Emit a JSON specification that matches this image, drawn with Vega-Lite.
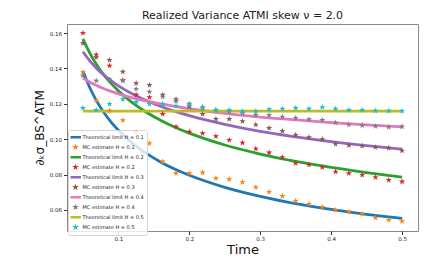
{
  "$schema": "https://vega.github.io/schema/vega-lite/v6.json",
  "width": 351,
  "height": 207,
  "autosize": {"type": "none"},
  "padding": {"left": 67, "top": 24, "right": 30, "bottom": 33},
  "background": "white",
  "title": {"text": "Realized Variance ATMI skew ν = 2.0", "fontSize": 11, "fontWeight": "normal", "font": "DejaVu Sans", "offset": 3, "anchor": "middle", "color": "#222"},
  "datasets": {
    "d": [
      {"s": "Theoretical limit H = 0.1", "T": 0.05, "v": 0.1385},
      {"s": "Theoretical limit H = 0.1", "T": 0.06, "v": 0.1288},
      {"s": "Theoretical limit H = 0.1", "T": 0.07, "v": 0.1211},
      {"s": "Theoretical limit H = 0.1", "T": 0.08, "v": 0.1148},
      {"s": "Theoretical limit H = 0.1", "T": 0.09, "v": 0.1095},
      {"s": "Theoretical limit H = 0.1", "T": 0.10, "v": 0.1050},
      {"s": "Theoretical limit H = 0.1", "T": 0.12, "v": 0.0976},
      {"s": "Theoretical limit H = 0.1", "T": 0.14, "v": 0.0918},
      {"s": "Theoretical limit H = 0.1", "T": 0.16, "v": 0.0870},
      {"s": "Theoretical limit H = 0.1", "T": 0.18, "v": 0.0830},
      {"s": "Theoretical limit H = 0.1", "T": 0.20, "v": 0.0796},
      {"s": "Theoretical limit H = 0.1", "T": 0.25, "v": 0.0728},
      {"s": "Theoretical limit H = 0.1", "T": 0.30, "v": 0.0677},
      {"s": "Theoretical limit H = 0.1", "T": 0.35, "v": 0.0636},
      {"s": "Theoretical limit H = 0.1", "T": 0.40, "v": 0.0603},
      {"s": "Theoretical limit H = 0.1", "T": 0.45, "v": 0.0575},
      {"s": "Theoretical limit H = 0.1", "T": 0.50, "v": 0.0552},
      {"s": "Theoretical limit H = 0.2", "T": 0.05, "v": 0.1567},
      {"s": "Theoretical limit H = 0.2", "T": 0.06, "v": 0.1484},
      {"s": "Theoretical limit H = 0.2", "T": 0.07, "v": 0.1417},
      {"s": "Theoretical limit H = 0.2", "T": 0.08, "v": 0.1361},
      {"s": "Theoretical limit H = 0.2", "T": 0.09, "v": 0.1314},
      {"s": "Theoretical limit H = 0.2", "T": 0.10, "v": 0.1273},
      {"s": "Theoretical limit H = 0.2", "T": 0.12, "v": 0.1205},
      {"s": "Theoretical limit H = 0.2", "T": 0.14, "v": 0.1151},
      {"s": "Theoretical limit H = 0.2", "T": 0.16, "v": 0.1106},
      {"s": "Theoretical limit H = 0.2", "T": 0.18, "v": 0.1067},
      {"s": "Theoretical limit H = 0.2", "T": 0.20, "v": 0.1034},
      {"s": "Theoretical limit H = 0.2", "T": 0.25, "v": 0.0967},
      {"s": "Theoretical limit H = 0.2", "T": 0.30, "v": 0.0916},
      {"s": "Theoretical limit H = 0.2", "T": 0.35, "v": 0.0874},
      {"s": "Theoretical limit H = 0.2", "T": 0.40, "v": 0.0840},
      {"s": "Theoretical limit H = 0.2", "T": 0.45, "v": 0.0811},
      {"s": "Theoretical limit H = 0.2", "T": 0.50, "v": 0.0785},
      {"s": "Theoretical limit H = 0.3", "T": 0.05, "v": 0.1494},
      {"s": "Theoretical limit H = 0.3", "T": 0.06, "v": 0.1441},
      {"s": "Theoretical limit H = 0.3", "T": 0.07, "v": 0.1397},
      {"s": "Theoretical limit H = 0.3", "T": 0.08, "v": 0.1361},
      {"s": "Theoretical limit H = 0.3", "T": 0.09, "v": 0.1329},
      {"s": "Theoretical limit H = 0.3", "T": 0.10, "v": 0.1301},
      {"s": "Theoretical limit H = 0.3", "T": 0.12, "v": 0.1255},
      {"s": "Theoretical limit H = 0.3", "T": 0.14, "v": 0.1217},
      {"s": "Theoretical limit H = 0.3", "T": 0.16, "v": 0.1185},
      {"s": "Theoretical limit H = 0.3", "T": 0.18, "v": 0.1157},
      {"s": "Theoretical limit H = 0.3", "T": 0.20, "v": 0.1133},
      {"s": "Theoretical limit H = 0.3", "T": 0.25, "v": 0.1084},
      {"s": "Theoretical limit H = 0.3", "T": 0.30, "v": 0.1044},
      {"s": "Theoretical limit H = 0.3", "T": 0.35, "v": 0.1013},
      {"s": "Theoretical limit H = 0.3", "T": 0.40, "v": 0.0986},
      {"s": "Theoretical limit H = 0.3", "T": 0.45, "v": 0.0963},
      {"s": "Theoretical limit H = 0.3", "T": 0.50, "v": 0.0943},
      {"s": "Theoretical limit H = 0.4", "T": 0.05, "v": 0.1346},
      {"s": "Theoretical limit H = 0.4", "T": 0.06, "v": 0.1322},
      {"s": "Theoretical limit H = 0.4", "T": 0.07, "v": 0.1302},
      {"s": "Theoretical limit H = 0.4", "T": 0.08, "v": 0.1285},
      {"s": "Theoretical limit H = 0.4", "T": 0.09, "v": 0.1270},
      {"s": "Theoretical limit H = 0.4", "T": 0.10, "v": 0.1256},
      {"s": "Theoretical limit H = 0.4", "T": 0.12, "v": 0.1234},
      {"s": "Theoretical limit H = 0.4", "T": 0.14, "v": 0.1215},
      {"s": "Theoretical limit H = 0.4", "T": 0.16, "v": 0.1199},
      {"s": "Theoretical limit H = 0.4", "T": 0.18, "v": 0.1185},
      {"s": "Theoretical limit H = 0.4", "T": 0.20, "v": 0.1172},
      {"s": "Theoretical limit H = 0.4", "T": 0.25, "v": 0.1146},
      {"s": "Theoretical limit H = 0.4", "T": 0.30, "v": 0.1125},
      {"s": "Theoretical limit H = 0.4", "T": 0.35, "v": 0.1109},
      {"s": "Theoretical limit H = 0.4", "T": 0.40, "v": 0.1094},
      {"s": "Theoretical limit H = 0.4", "T": 0.45, "v": 0.1081},
      {"s": "Theoretical limit H = 0.4", "T": 0.50, "v": 0.1070},
      {"s": "Theoretical limit H = 0.5", "T": 0.05, "v": 0.1159},
      {"s": "Theoretical limit H = 0.5", "T": 0.50, "v": 0.1159},
      {"s": "MC estimate H = 0.1", "T": 0.05, "v": 0.1378},
      {"s": "MC estimate H = 0.1", "T": 0.06875, "v": 0.1218},
      {"s": "MC estimate H = 0.1", "T": 0.0875, "v": 0.1161},
      {"s": "MC estimate H = 0.1", "T": 0.10625, "v": 0.1107},
      {"s": "MC estimate H = 0.1", "T": 0.125, "v": 0.1040},
      {"s": "MC estimate H = 0.1", "T": 0.14375, "v": 0.0977},
      {"s": "MC estimate H = 0.1", "T": 0.1625, "v": 0.0873},
      {"s": "MC estimate H = 0.1", "T": 0.18125, "v": 0.0807},
      {"s": "MC estimate H = 0.1", "T": 0.2, "v": 0.0807},
      {"s": "MC estimate H = 0.1", "T": 0.21875, "v": 0.0811},
      {"s": "MC estimate H = 0.1", "T": 0.2375, "v": 0.0779},
      {"s": "MC estimate H = 0.1", "T": 0.25625, "v": 0.0773},
      {"s": "MC estimate H = 0.1", "T": 0.275, "v": 0.0757},
      {"s": "MC estimate H = 0.1", "T": 0.29375, "v": 0.0728},
      {"s": "MC estimate H = 0.1", "T": 0.3125, "v": 0.0702},
      {"s": "MC estimate H = 0.1", "T": 0.33125, "v": 0.0679},
      {"s": "MC estimate H = 0.1", "T": 0.35, "v": 0.0651},
      {"s": "MC estimate H = 0.1", "T": 0.36875, "v": 0.0634},
      {"s": "MC estimate H = 0.1", "T": 0.3875, "v": 0.0617},
      {"s": "MC estimate H = 0.1", "T": 0.40625, "v": 0.0600},
      {"s": "MC estimate H = 0.1", "T": 0.425, "v": 0.0590},
      {"s": "MC estimate H = 0.1", "T": 0.44375, "v": 0.0577},
      {"s": "MC estimate H = 0.1", "T": 0.4625, "v": 0.0556},
      {"s": "MC estimate H = 0.1", "T": 0.48125, "v": 0.0543},
      {"s": "MC estimate H = 0.1", "T": 0.5, "v": 0.0536},
      {"s": "MC estimate H = 0.2", "T": 0.05, "v": 0.1600},
      {"s": "MC estimate H = 0.2", "T": 0.06875, "v": 0.1477},
      {"s": "MC estimate H = 0.2", "T": 0.0875, "v": 0.1415},
      {"s": "MC estimate H = 0.2", "T": 0.10625, "v": 0.1333},
      {"s": "MC estimate H = 0.2", "T": 0.125, "v": 0.1251},
      {"s": "MC estimate H = 0.2", "T": 0.14375, "v": 0.1237},
      {"s": "MC estimate H = 0.2", "T": 0.1625, "v": 0.1142},
      {"s": "MC estimate H = 0.2", "T": 0.18125, "v": 0.1070},
      {"s": "MC estimate H = 0.2", "T": 0.2, "v": 0.1042},
      {"s": "MC estimate H = 0.2", "T": 0.21875, "v": 0.1033},
      {"s": "MC estimate H = 0.2", "T": 0.2375, "v": 0.1016},
      {"s": "MC estimate H = 0.2", "T": 0.25625, "v": 0.0995},
      {"s": "MC estimate H = 0.2", "T": 0.275, "v": 0.0980},
      {"s": "MC estimate H = 0.2", "T": 0.29375, "v": 0.0946},
      {"s": "MC estimate H = 0.2", "T": 0.3125, "v": 0.0924},
      {"s": "MC estimate H = 0.2", "T": 0.33125, "v": 0.0898},
      {"s": "MC estimate H = 0.2", "T": 0.35, "v": 0.0864},
      {"s": "MC estimate H = 0.2", "T": 0.36875, "v": 0.0856},
      {"s": "MC estimate H = 0.2", "T": 0.3875, "v": 0.0841},
      {"s": "MC estimate H = 0.2", "T": 0.40625, "v": 0.0816},
      {"s": "MC estimate H = 0.2", "T": 0.425, "v": 0.0807},
      {"s": "MC estimate H = 0.2", "T": 0.44375, "v": 0.0798},
      {"s": "MC estimate H = 0.2", "T": 0.4625, "v": 0.0785},
      {"s": "MC estimate H = 0.2", "T": 0.48125, "v": 0.0769},
      {"s": "MC estimate H = 0.2", "T": 0.5, "v": 0.0760},
      {"s": "MC estimate H = 0.3", "T": 0.05, "v": 0.1542},
      {"s": "MC estimate H = 0.3", "T": 0.06875, "v": 0.1463},
      {"s": "MC estimate H = 0.3", "T": 0.0875, "v": 0.1447},
      {"s": "MC estimate H = 0.3", "T": 0.10625, "v": 0.1381},
      {"s": "MC estimate H = 0.3", "T": 0.125, "v": 0.1316},
      {"s": "MC estimate H = 0.3", "T": 0.14375, "v": 0.1306},
      {"s": "MC estimate H = 0.3", "T": 0.1625, "v": 0.1251},
      {"s": "MC estimate H = 0.3", "T": 0.18125, "v": 0.1225},
      {"s": "MC estimate H = 0.3", "T": 0.2, "v": 0.1185},
      {"s": "MC estimate H = 0.3", "T": 0.21875, "v": 0.1142},
      {"s": "MC estimate H = 0.3", "T": 0.2375, "v": 0.1114},
      {"s": "MC estimate H = 0.3", "T": 0.25625, "v": 0.1114},
      {"s": "MC estimate H = 0.3", "T": 0.275, "v": 0.1101},
      {"s": "MC estimate H = 0.3", "T": 0.29375, "v": 0.1082},
      {"s": "MC estimate H = 0.3", "T": 0.3125, "v": 0.1063},
      {"s": "MC estimate H = 0.3", "T": 0.33125, "v": 0.1046},
      {"s": "MC estimate H = 0.3", "T": 0.35, "v": 0.1024},
      {"s": "MC estimate H = 0.3", "T": 0.36875, "v": 0.1011},
      {"s": "MC estimate H = 0.3", "T": 0.3875, "v": 0.1000},
      {"s": "MC estimate H = 0.3", "T": 0.40625, "v": 0.0973},
      {"s": "MC estimate H = 0.3", "T": 0.425, "v": 0.0966},
      {"s": "MC estimate H = 0.3", "T": 0.44375, "v": 0.0962},
      {"s": "MC estimate H = 0.3", "T": 0.4625, "v": 0.0954},
      {"s": "MC estimate H = 0.3", "T": 0.48125, "v": 0.0950},
      {"s": "MC estimate H = 0.3", "T": 0.5, "v": 0.0935},
      {"s": "MC estimate H = 0.4", "T": 0.05, "v": 0.1359},
      {"s": "MC estimate H = 0.4", "T": 0.06875, "v": 0.1330},
      {"s": "MC estimate H = 0.4", "T": 0.0875, "v": 0.1338},
      {"s": "MC estimate H = 0.4", "T": 0.10625, "v": 0.1330},
      {"s": "MC estimate H = 0.4", "T": 0.125, "v": 0.1284},
      {"s": "MC estimate H = 0.4", "T": 0.14375, "v": 0.1268},
      {"s": "MC estimate H = 0.4", "T": 0.1625, "v": 0.1240},
      {"s": "MC estimate H = 0.4", "T": 0.18125, "v": 0.1215},
      {"s": "MC estimate H = 0.4", "T": 0.2, "v": 0.1200},
      {"s": "MC estimate H = 0.4", "T": 0.21875, "v": 0.1175},
      {"s": "MC estimate H = 0.4", "T": 0.2375, "v": 0.1165},
      {"s": "MC estimate H = 0.4", "T": 0.25625, "v": 0.1155},
      {"s": "MC estimate H = 0.4", "T": 0.275, "v": 0.1148},
      {"s": "MC estimate H = 0.4", "T": 0.29375, "v": 0.1137},
      {"s": "MC estimate H = 0.4", "T": 0.3125, "v": 0.1135},
      {"s": "MC estimate H = 0.4", "T": 0.33125, "v": 0.1127},
      {"s": "MC estimate H = 0.4", "T": 0.35, "v": 0.1120},
      {"s": "MC estimate H = 0.4", "T": 0.36875, "v": 0.1112},
      {"s": "MC estimate H = 0.4", "T": 0.3875, "v": 0.1108},
      {"s": "MC estimate H = 0.4", "T": 0.40625, "v": 0.1093},
      {"s": "MC estimate H = 0.4", "T": 0.425, "v": 0.1082},
      {"s": "MC estimate H = 0.4", "T": 0.44375, "v": 0.1078},
      {"s": "MC estimate H = 0.4", "T": 0.4625, "v": 0.1073},
      {"s": "MC estimate H = 0.4", "T": 0.48125, "v": 0.1069},
      {"s": "MC estimate H = 0.4", "T": 0.5, "v": 0.1071},
      {"s": "MC estimate H = 0.5", "T": 0.05, "v": 0.1176},
      {"s": "MC estimate H = 0.5", "T": 0.06875, "v": 0.1165},
      {"s": "MC estimate H = 0.5", "T": 0.0875, "v": 0.1199},
      {"s": "MC estimate H = 0.5", "T": 0.10625, "v": 0.1226},
      {"s": "MC estimate H = 0.5", "T": 0.125, "v": 0.1210},
      {"s": "MC estimate H = 0.5", "T": 0.14375, "v": 0.1199},
      {"s": "MC estimate H = 0.5", "T": 0.1625, "v": 0.1199},
      {"s": "MC estimate H = 0.5", "T": 0.18125, "v": 0.1188},
      {"s": "MC estimate H = 0.5", "T": 0.2, "v": 0.1194},
      {"s": "MC estimate H = 0.5", "T": 0.21875, "v": 0.1182},
      {"s": "MC estimate H = 0.5", "T": 0.2375, "v": 0.1165},
      {"s": "MC estimate H = 0.5", "T": 0.25625, "v": 0.1165},
      {"s": "MC estimate H = 0.5", "T": 0.275, "v": 0.1158},
      {"s": "MC estimate H = 0.5", "T": 0.29375, "v": 0.1158},
      {"s": "MC estimate H = 0.5", "T": 0.3125, "v": 0.1169},
      {"s": "MC estimate H = 0.5", "T": 0.33125, "v": 0.1172},
      {"s": "MC estimate H = 0.5", "T": 0.35, "v": 0.1176},
      {"s": "MC estimate H = 0.5", "T": 0.36875, "v": 0.1172},
      {"s": "MC estimate H = 0.5", "T": 0.3875, "v": 0.1180},
      {"s": "MC estimate H = 0.5", "T": 0.40625, "v": 0.1172},
      {"s": "MC estimate H = 0.5", "T": 0.425, "v": 0.1165},
      {"s": "MC estimate H = 0.5", "T": 0.44375, "v": 0.1165},
      {"s": "MC estimate H = 0.5", "T": 0.4625, "v": 0.1161},
      {"s": "MC estimate H = 0.5", "T": 0.48125, "v": 0.1161},
      {"s": "MC estimate H = 0.5", "T": 0.5, "v": 0.1159}
    ]
  },
  "data": {"name": "d"},
  "encoding": {
    "x": {"field": "T", "type": "quantitative", "scale": {"domain": [0.0275, 0.5225], "nice": false, "zero": false}, "axis": {"title": "Time", "values": [0.1, 0.2, 0.3, 0.4, 0.5], "format": ".1f", "titlePadding": 1, "labelPadding": 2}},
    "y": {"field": "v", "type": "quantitative", "scale": {"domain": [0.0481, 0.1651], "nice": false, "zero": false}, "axis": {"title": "∂ₖσ_BS^ATM", "values": [0.06, 0.08, 0.10, 0.12, 0.14, 0.16], "format": ".2f", "titlePadding": 3, "labelPadding": 2, "titleFontSize": 12}},
    "color": {
      "field": "s", "type": "nominal",
      "scale": {
        "domain": ["Theoretical limit H = 0.1", "MC estimate H = 0.1", "Theoretical limit H = 0.2", "MC estimate H = 0.2", "Theoretical limit H = 0.3", "MC estimate H = 0.3", "Theoretical limit H = 0.4", "MC estimate H = 0.4", "Theoretical limit H = 0.5", "MC estimate H = 0.5"],
        "range": ["#1f77b4", "#ff7f0e", "#2ca02c", "#d62728", "#9467bd", "#8c564b", "#e377c2", "#7f7f7f", "#bcbd22", "#17becf"]
      },
      "legend": {"title": null, "orient": "none", "legendX": 1, "legendY": 106, "labelFont": "DejaVu Sans", "labelFontSize": 5, "labelColor": "#222", "symbolSize": 50, "symbolStrokeWidth": 0, "clipHeight": 9.4, "rowPadding": 0, "padding": 2.5, "fillColor": "rgba(255,255,255,0.8)", "strokeColor": "#d5d5d5", "cornerRadius": 2, "labelOffset": 3, "symbolOffset": 1}
    }
  },
  "layer": [
    {
      "transform": [{"filter": "indexof(datum.s, 'Theoretical') === 0"}],
      "mark": {"type": "line", "strokeWidth": 2.8, "interpolate": "monotone"}
    },
    {
      "transform": [{"filter": "indexof(datum.s, 'MC') === 0"}],
      "mark": {"type": "point", "filled": true, "opacity": 1, "strokeWidth": 0, "size": 44},
      "encoding": {
        "shape": {
          "field": "s", "type": "nominal",
          "scale": {
            "domain": ["Theoretical limit H = 0.1", "MC estimate H = 0.1", "Theoretical limit H = 0.2", "MC estimate H = 0.2", "Theoretical limit H = 0.3", "MC estimate H = 0.3", "Theoretical limit H = 0.4", "MC estimate H = 0.4", "Theoretical limit H = 0.5", "MC estimate H = 0.5"],
            "range": ["M-1.55,-0.37L1.55,-0.37L1.55,0.37L-1.55,0.37Z", "M0,-1L0.2245,-0.309L0.951,-0.309L0.363,0.118L0.588,0.809L0,0.382L-0.588,0.809L-0.363,0.118L-0.951,-0.309L-0.2245,-0.309Z", "M-1.55,-0.37L1.55,-0.37L1.55,0.37L-1.55,0.37Z", "M0,-1L0.2245,-0.309L0.951,-0.309L0.363,0.118L0.588,0.809L0,0.382L-0.588,0.809L-0.363,0.118L-0.951,-0.309L-0.2245,-0.309Z", "M-1.55,-0.37L1.55,-0.37L1.55,0.37L-1.55,0.37Z", "M0,-1L0.2245,-0.309L0.951,-0.309L0.363,0.118L0.588,0.809L0,0.382L-0.588,0.809L-0.363,0.118L-0.951,-0.309L-0.2245,-0.309Z", "M-1.55,-0.37L1.55,-0.37L1.55,0.37L-1.55,0.37Z", "M0,-1L0.2245,-0.309L0.951,-0.309L0.363,0.118L0.588,0.809L0,0.382L-0.588,0.809L-0.363,0.118L-0.951,-0.309L-0.2245,-0.309Z", "M-1.55,-0.37L1.55,-0.37L1.55,0.37L-1.55,0.37Z", "M0,-1L0.2245,-0.309L0.951,-0.309L0.363,0.118L0.588,0.809L0,0.382L-0.588,0.809L-0.363,0.118L-0.951,-0.309L-0.2245,-0.309Z"]
          },
          "legend": {"title": null, "orient": "none", "legendX": 1, "legendY": 106, "labelFont": "DejaVu Sans", "labelFontSize": 5, "labelColor": "#222", "symbolSize": 50, "symbolStrokeWidth": 0, "clipHeight": 9.4, "rowPadding": 0, "padding": 2.5, "fillColor": "rgba(255,255,255,0.8)", "strokeColor": "#d5d5d5", "cornerRadius": 2, "labelOffset": 3, "symbolOffset": 1}
        }
      }
    }
  ],
  "config": {
    "font": "DejaVu Sans",
    "view": {"stroke": "#888", "strokeWidth": 1},
    "axis": {"domain": false, "grid": false, "ticks": true, "tickColor": "#333", "tickSize": 3.5, "labelFont": "DejaVu Sans", "labelFontSize": 5.5, "labelColor": "#222", "titleFont": "DejaVu Sans", "titleFontWeight": "normal", "titleFontSize": 13, "titleColor": "#111"}
  }
}
